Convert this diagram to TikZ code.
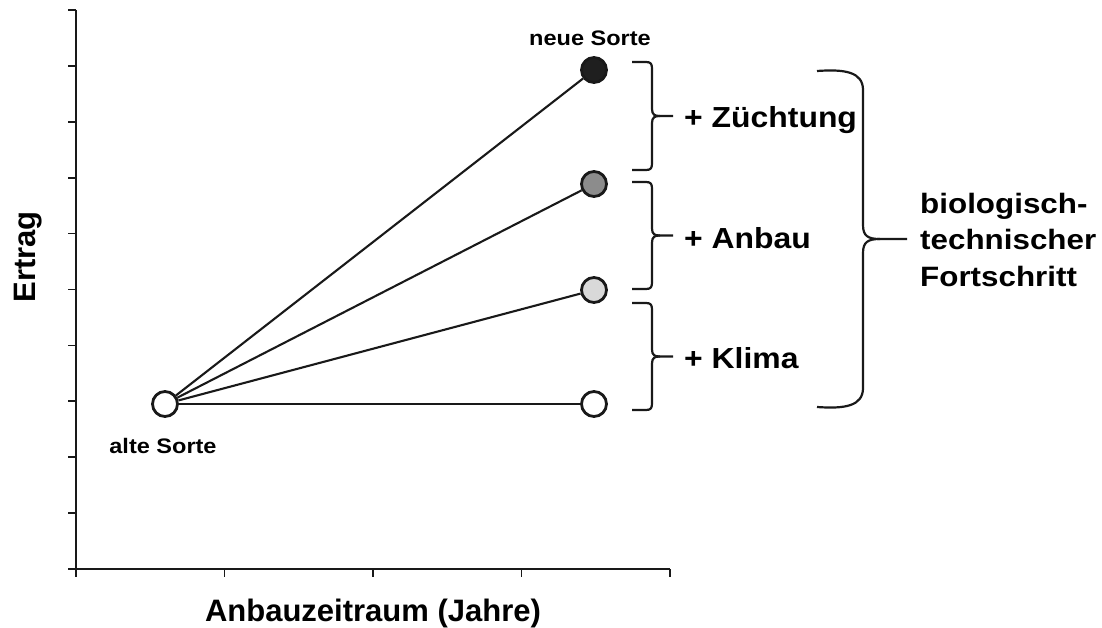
\documentclass[tikz,border=0pt]{standalone}
\usepackage{fontspec}
\setmainfont{Liberation Sans}
\newfontfamily\wide[FakeStretch=1.1]{Liberation Sans}
\newfontfamily\wider[FakeStretch=1.12]{Liberation Sans}
\begin{document}
\begin{tikzpicture}[x=1pt,y=-1pt,
  axis/.style={line width=2.8pt,black!90},
  tick/.style={line width=1.8pt,black!90},
  pt/.style={circle,draw=black!90,line width=2.8pt,minimum size=25pt,inner sep=0pt},
  conn/.style={line width=2.1pt,black!90},
  brace/.style={line width=2.2pt,black!90,line join=round},
  small/.style={font=\wider\bfseries\fontsize{21}{24}\selectfont,inner sep=0pt,text=black},
  big/.style={font=\wide\bfseries\fontsize{29}{34}\selectfont,inner sep=0pt,text=black},
  prog/.style={font=\wider\bfseries\fontsize{28}{34}\selectfont,inner sep=0pt,text=black},
  axlab/.style={font=\bfseries\fontsize{31}{36}\selectfont,inner sep=0pt,text=black}]
\useasboundingbox (0,0) rectangle (1102,628);
% axes
\draw[axis] (76,10) -- (76,569) -- (670,569);
\foreach \k in {0,...,10} \draw[tick] (68,{10+55.9*\k}) -- (76,{10+55.9*\k});
\foreach \k in {0,...,4} \draw[tick] ({76+148.5*\k},569) -- ({76+148.5*\k},577);
% points
\node[pt,fill=white] (alt) at (165,404) {};
\node[pt,fill=black!88] (z) at (594,70) {};
\node[pt,fill=black!45] (a) at (594,184) {};
\node[pt,fill=black!15] (k) at (594,290) {};
\node[pt,fill=white] (o) at (594,404) {};
\draw[conn] (alt) -- (z);
\draw[conn] (alt) -- (a);
\draw[conn] (alt) -- (k);
\draw[conn] (alt) -- (o);
% labels
\node[small,anchor=base] (neu) at (590,46) {neue Sorte};
\node[small,anchor=base] (alte) at (163,453) {alte Sorte};
% small braces
\foreach \t/\b in {62/170,182/289,303/410}{
  \draw[brace] (632,\t) -- (646,\t) .. controls (651,\t) and (652,\t+2) .. (652,\t+7)
    -- (652,{(\t+\b)/2-7}) .. controls (652,{(\t+\b)/2-1}) and (655,{(\t+\b)/2}) .. (660,{(\t+\b)/2})
    -- (673,{(\t+\b)/2});
  \draw[brace] (632,\b) -- (646,\b) .. controls (651,\b) and (652,\b-2) .. (652,\b-7)
    -- (652,{(\t+\b)/2+7}) .. controls (652,{(\t+\b)/2+1}) and (655,{(\t+\b)/2}) .. (660,{(\t+\b)/2});
}
\node[big,anchor=base west] (zu) at (684,128) {+ Züchtung};
\node[big,anchor=base west] (an) at (684,248) {+ Anbau};
\node[big,anchor=base west] (kl) at (684,368) {+ Klima};
% big brace
\draw[brace] (817,71) .. controls (845,69) and (863,72) .. (863,90)
  -- (863,225) .. controls (863,236) and (868,239) .. (880,239) -- (907,239);
\draw[brace] (817,407) .. controls (845,409) and (863,406) .. (863,388)
  -- (863,253) .. controls (863,242) and (868,239) .. (880,239);
\node[prog,anchor=base west] (p1) at (920,214) {biologisch-};
\node[prog,anchor=base west] (p2) at (920,250) {technischer};
\node[prog,anchor=base west] (p3) at (920,286) {Fortschritt};
% axis labels
\node[axlab,anchor=base,rotate=90] (ert) at (35,257) {Ertrag};
\node[axlab,anchor=base] (zeit) at (373,621) {Anbauzeitraum (Jahre)};
\end{tikzpicture}
\end{document}
